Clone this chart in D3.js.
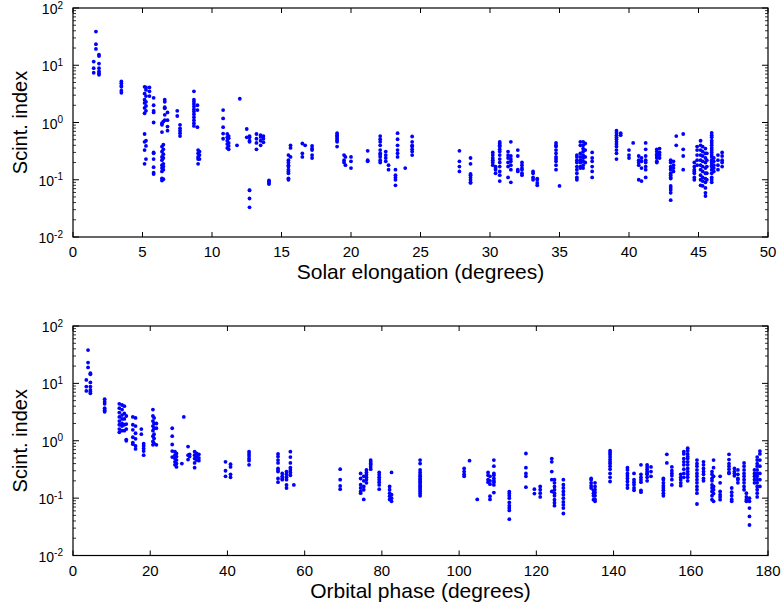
<!DOCTYPE html>
<html><head><meta charset="utf-8">
<script src="https://cdn.jsdelivr.net/npm/d3@7"></script>
<style>body{margin:0;background:#fff}svg{display:block}text{font-family:"Liberation Sans",Arial,Helvetica,sans-serif;fill:#000}</style>
</head><body><svg id="c" width="781" height="609"></svg>
<script>
// ---------- DATA ----------
const yMajorExp = [-2, -1, 0, 1, 2];
const xTicksTop = [0, 5, 10, 15, 20, 25, 30, 35, 40, 45, 50];
const xTicksBottom = [0, 20, 40, 60, 80, 100, 120, 140, 160, 180];
const xLabelTop = "Solar elongation (degrees)";
const xLabelBottom = "Orbital phase (degrees)";
const yLabel = "Scint. index";

// Solar elongation (deg): column positions and scintillation index values
const elongX = [1.49,1.65,1.87,3.48,5.15,5.25,5.5,5.8,6.4,6.5,6.6,6.8,7.5,7.7,8.7,8.95,9.0,9.1,10.8,11.1,11.2,11.8,12.0,12.5,12.7,13.2,13.5,13.7,14.1,15.5,15.65,16.5,16.7,17.2,19.0,19.5,19.6,20.0,21.2,22.1,22.5,22.7,23.2,23.35,23.9,24.4,27.8,28.6,30.2,30.4,30.7,31.3,31.5,32.0,32.3,33.1,33.4,34.75,35.0,36.25,36.5,36.7,36.85,37.35,39.1,39.4,40.0,40.3,40.7,40.9,41.2,42.0,42.2,43.0,43.2,43.4,43.9,44.7,44.9,45.15,45.3,45.5,45.6,45.95,46.1,46.4,46.7];
const elongY = [
 [11.6,8.9,7.4],[38.7,23.3,19.3],[15.3,14.5,10.7,8.9,7.8,7.2,6.8],[5.2,4.85,4.4,4.2,3.6,3.3],
 [4.2,3.2,2.5,2.2,1.8,1.45,0.63,0.46,0.33,0.19],[4.1,3.7,2.9,2.3,1.95,1.6,0.48,0.39,0.23],[4.1,3.5,2.9],
 [2.7,2.0,1.6,1.5,1.0,0.30,0.29,0.23,0.166,0.133,0.126],
 [0.97,0.91,0.68,0.38,0.31,0.25,0.22,0.18,0.16,0.14,0.106,0.097],[1.04,0.41,0.34,0.28,0.24,0.19,0.17,0.15,0.102],
 [2.5,2.3,1.85,1.77,1.36,1.1],[1.5,1.1,0.85,0.72],[1.6,1.3],[0.91,0.79,0.72,0.65,0.58],
 [3.5,2.5,2.3,2.1,1.9,1.7,1.55,1.4,1.24,1.1,0.97,0.87],[2.0,1.65,0.83],[0.33,0.29,0.25,0.19,0.23],[0.31,0.27,0.23],
 [1.65,1.18,0.83,0.64,0.52],[0.63,0.55,0.48,0.42,0.36],[0.58,0.53,0.44,0.39,0.34],[0.4],[2.6],[0.77,0.55],
 [0.58,0.55,0.48,0.46,0.066,0.065,0.047,0.033],[0.63,0.52,0.44,0.34],[0.6,0.56,0.48,0.4],[0.58,0.52,0.45],
 [0.097,0.093,0.088,0.084],[0.27,0.22,0.2,0.18,0.17,0.15,0.14,0.13,0.106,0.1],[0.4,0.36,0.25],[0.43,0.29,0.25],[0.4],
 [0.39,0.35,0.33,0.27,0.24],[0.65,0.6,0.57,0.53,0.49,0.46,0.38],[0.27,0.22,0.2],[0.25,0.18],[0.25,0.21,0.16],
 [0.32,0.22,0.21],[0.58,0.51,0.46,0.40,0.33,0.29,0.27,0.25,0.22,0.2],[0.31,0.27,0.24,0.21],[0.18,0.15],
 [0.15,0.12,0.11,0.1,0.08],[0.65,0.51,0.40,0.33,0.29,0.25],[0.16],[0.57,0.46,0.40,0.38,0.34,0.31,0.27],
 [0.32,0.21,0.17,0.14],[0.24,0.19,0.126,0.12,0.11,0.1,0.09,0.088],[0.30,0.27,0.24,0.22,0.2,0.18],[0.17,0.16,0.15,0.13],
 [0.46,0.43,0.40,0.38,0.34,0.31,0.27,0.23,0.2,0.17,0.14,0.12,0.095],[0.31,0.27,0.24,0.2,0.17,0.11],
 [0.46,0.26,0.23,0.21,0.18,0.15,0.09],[0.33,0.26,0.15,0.14],[0.2,0.18,0.16,0.15,0.13,0.12],[0.14,0.13,0.11,0.1],
 [0.105,0.1,0.088,0.08],[0.44,0.40,0.38,0.33,0.29,0.25,0.23,0.21,0.18,0.15],[0.078],
 [0.27,0.25,0.22,0.2,0.17,0.15,0.13,0.11,0.1],[0.46,0.40,0.29,0.25,0.22,0.2,0.17,0.16],
 [0.46,0.40,0.35,0.31,0.27,0.24,0.21,0.18,0.16],[0.43,0.33,0.25,0.2],[0.3,0.24,0.21,0.17,0.14,0.11],
 [0.72,0.66,0.6,0.55,0.51,0.46,0.42,0.38,0.33,0.29,0.23],[0.65,0.6],[0.33,0.27,0.24],[0.44],
 [0.26,0.22,0.2,0.18,0.1],[0.24,0.21,0.16,0.095],[0.44,0.34,0.26,0.22,0.2,0.17,0.15,0.11],
 [0.34,0.31,0.28,0.26,0.24,0.21,0.2],[0.35,0.30,0.27,0.24],
 [0.22,0.2,0.17,0.16,0.15,0.13,0.12,0.11,0.105,0.078,0.072,0.066,0.059,0.044],[0.21,0.18,0.16,0.14],[0.58,0.40],
 [0.63,0.34,0.26,0.15],[0.2,0.17,0.15,0.14,0.13,0.11,0.1],[0.38,0.33,0.27,0.22,0.18],
 [0.48,0.40,0.33,0.27,0.22,0.18,0.15,0.12,0.1,0.08],[0.38,0.31,0.26,0.21,0.17,0.14,0.11,0.095,0.078],
 [0.35,0.29,0.24,0.2,0.16,0.13,0.105,0.09,0.072,0.059,0.052],[0.29,0.22,0.17,0.13,0.1],
 [0.66,0.6,0.55,0.48,0.44,0.40,0.36,0.33,0.30,0.27,0.25,0.22,0.2,0.18,0.17,0.15,0.13,0.11,0.1,0.09],
 [0.24,0.21,0.18,0.16,0.14],[0.27,0.22,0.18,0.15],[0.30,0.26,0.22,0.2,0.17]
];

// Orbital phase (deg): column positions and scintillation index values
const phaseX = [3.45,3.9,4.5,8.2,12.0,12.7,13.3,13.8,15.5,16.2,17.7,18.3,20.7,21.0,21.6,25.7,26.4,26.8,28.2,28.7,29.8,30.2,31.5,32.0,32.6,39.5,40.8,45.6,53.1,54.2,55.3,56.3,57.2,69.2,74.5,75.3,76.0,77.1,79.3,82.0,82.5,89.9,101.3,102.7,104.7,107.5,108.0,109.0,113.0,117.3,119.5,121.0,124.0,124.7,127.0,134.2,134.8,135.2,139.1,143.6,145.3,147.1,148.7,149.7,152.9,153.8,155.1,157.4,158.2,159.2,161.6,163.3,165.5,165.9,167.6,169.9,170.6,171.3,172.2,173.8,174.4,175.2,176.5,177.2,177.9];
const phaseY = [
 [11.5,8.8,7.4],[38,23,19],[15,14.4,10.4,8.8,7.7,7.2,6.7],[5.3,4.8,4.4,3.7,3.4,3.2],
 [4.4,3.7,3.1,2.6,2.2,1.9,1.6,1.4],[4.2,3.5,2.8,2.4,2.0,1.8,1.5],[4.0,3.0,2.4,1.9,1.5],[2.7,1.95,1.6,1.05,1.0],
 [2.6,1.9,1.55,1.15,0.93,0.87],[2.5,1.8,1.35,1.08,0.81,0.72],[1.6,1.3],[0.89,0.81,0.73,0.66,0.56],
 [3.5,2.7,2.2,1.8,1.5,1.2,0.97,0.85],[2.5,2.0,1.65,1.3,1.1,0.9],[2.0,1.65,0.85],[1.65,1.2,0.86,0.66,0.52],
 [0.645,0.56,0.49,0.43,0.38],[0.6,0.53,0.46,0.40,0.35],[0.40],[2.6],[0.79,0.56,0.47],[0.58,0.53],
 [0.645,0.56,0.49,0.41,0.34],[0.6,0.53,0.46],[0.58,0.5,0.45],[0.43,0.30,0.24],[0.39,0.35,0.26,0.23],
 [0.645,0.59,0.54,0.49,0.45,0.38],[0.59,0.53,0.46,0.41,0.33,0.31,0.29,0.22,0.19],[0.27,0.24,0.22,0.21],
 [0.29,0.26,0.23,0.21,0.17,0.15],[0.645,0.52,0.41,0.34,0.31,0.28,0.25],[0.17],[0.32,0.21,0.163,0.143],
 [0.27,0.22,0.171,0.15,0.131,0.122],[0.24,0.2,0.16,0.14,0.095],[0.31,0.28,0.255,0.23,0.21,0.185],
 [0.46,0.43,0.40,0.38,0.35,0.32],[0.28,0.255,0.23,0.21,0.19,0.17,0.143],[0.16,0.14,0.122,0.108,0.095],
 [0.28,0.115,0.1,0.088],
 [0.46,0.40,0.31,0.28,0.255,0.24,0.22,0.21,0.195,0.185,0.171,0.16,0.15,0.14,0.131,0.12,0.11],
 [0.33,0.29,0.26,0.24],[0.45],[0.095],[0.28,0.25,0.21,0.19],[0.24,0.2,0.175,0.108,0.095],
 [0.46,0.36,0.27,0.25,0.22,0.2,0.19,0.17,0.125],[0.13,0.12,0.11,0.1,0.084,0.074,0.067,0.061,0.043],
 [0.6,0.34,0.27,0.24,0.155],[0.143,0.12],[0.16,0.14,0.122,0.105],[0.49,0.43,0.29,0.21,0.131],
 [0.21,0.185,0.16,0.14,0.122,0.11,0.094,0.083,0.074],[0.21,0.171,0.15,0.131,0.115,0.1,0.086,0.076,0.067,0.054],
 [0.22,0.21,0.185,0.165,0.15],[0.137,0.122,0.11,0.094],[0.185,0.16,0.14,0.125,0.11,0.095,0.088],
 [0.67,0.62,0.57,0.52,0.47,0.43,0.4,0.36,0.32,0.27,0.23,0.195],[0.34,0.31,0.27,0.245,0.22,0.195,0.17,0.15],
 [0.27,0.21,0.19,0.171,0.15,0.137],[0.38,0.26,0.23,0.21,0.19,0.137,0.127],[0.38,0.35,0.32,0.29,0.27,0.26,0.23,0.2],
 [0.35,0.29,0.24],[0.22,0.21,0.185,0.165,0.15,0.137,0.122,0.11],[0.58,0.41],[0.35,0.3,0.27,0.245,0.21,0.17],
 [0.26,0.23,0.21,0.185,0.165],[0.645,0.59,0.49,0.43,0.38,0.32,0.27,0.23],
 [0.74,0.67,0.59,0.53,0.49,0.43,0.38,0.33,0.29,0.26,0.23,0.2],
 [0.46,0.40,0.36,0.31,0.27,0.24,0.21,0.185,0.16,0.14,0.122,0.079],[0.43,0.38,0.33,0.29,0.26,0.22,0.2],
 [0.29,0.26,0.22,0.2,0.17,0.15,0.131,0.11,0.094],[0.46,0.34,0.24,0.16,0.14,0.12,0.088],
 [0.24,0.185,0.131,0.115,0.105,0.094],[0.58,0.47,0.40,0.36,0.32,0.28,0.27],[0.15,0.127,0.11,0.095,0.088],
 [0.33,0.29,0.27,0.245],[0.31,0.26,0.22,0.21,0.185],[0.41,0.36,0.31,0.27,0.24,0.21,0.185,0.16,0.14],
 [0.122,0.105,0.094,0.088],[0.1,0.088,0.067,0.048,0.034],[0.31,0.27,0.24,0.21,0.185],
 [0.52,0.46,0.40,0.36,0.31,0.27,0.24,0.21,0.185,0.16,0.14,0.122,0.105],[0.66,0.59,0.46,0.36,0.27,0.21,0.16]
];

// ---------- DRAW ----------
const svg = d3.select("#c");
const dotColor = "#0000ff";

function panel(box, xDomain, xTicks, xs, ys, xLabel) {
  const {x0, x1, y0, y1} = box;
  const g = svg.append("g");
  const x = d3.scaleLinear().domain(xDomain).range([x0, x1]);
  const y = d3.scaleLog().domain([0.01, 100]).range([y1, y0]);

  // dots
  const pts = [];
  xs.forEach((xv, i) => ys[i].forEach(v => pts.push([xv, v])));
  g.append("g").selectAll("circle").data(pts).join("circle")
    .attr("cx", d => x(d[0])).attr("cy", d => y(d[1])).attr("r", 1.9)
    .attr("fill", dotColor);

  // frame
  g.append("rect").attr("x", x0).attr("y", y0).attr("width", x1 - x0).attr("height", y1 - y0)
    .attr("fill", "none").attr("stroke", "#000").attr("stroke-width", 1.2);

  // x ticks (inward, top and bottom)
  xTicks.forEach(t => {
    const px = x(t);
    g.append("line").attr("x1", px).attr("x2", px).attr("y1", y1).attr("y2", y1 - 5).attr("stroke", "#000");
    g.append("line").attr("x1", px).attr("x2", px).attr("y1", y0).attr("y2", y0 + 5).attr("stroke", "#000");
    g.append("text").attr("x", px).attr("y", y1 + 20).attr("text-anchor", "middle")
      .attr("font-size", 15).text(t);
  });

  // y ticks (log, inward, left and right)
  yMajorExp.forEach(e => {
    const py = y(Math.pow(10, e));
    g.append("line").attr("x1", x0).attr("x2", x0 + 6).attr("y1", py).attr("y2", py).attr("stroke", "#000");
    g.append("line").attr("x1", x1).attr("x2", x1 - 6).attr("y1", py).attr("y2", py).attr("stroke", "#000");
    const t = g.append("text").attr("x", x0 - 10).attr("y", py + 6).attr("text-anchor", "end").attr("font-size", 14);
    t.append("tspan").text("10");
    t.append("tspan").attr("dy", -5.5).attr("font-size", 10).text(String(e));
    if (e < 2) {
      for (let m = 2; m <= 9; m++) {
        const pm = y(m * Math.pow(10, e));
        g.append("line").attr("x1", x0).attr("x2", x0 + 3).attr("y1", pm).attr("y2", pm).attr("stroke", "#000").attr("stroke-width", 0.8);
        g.append("line").attr("x1", x1).attr("x2", x1 - 3).attr("y1", pm).attr("y2", pm).attr("stroke", "#000").attr("stroke-width", 0.8);
      }
    }
  });

  // axis labels
  g.append("text").attr("x", (x0 + x1) / 2).attr("y", y1 + 42).attr("text-anchor", "middle")
    .attr("font-size", 21).text(xLabel);
  g.append("text").attr("transform", `translate(27,${(y0 + y1) / 2}) rotate(-90)`)
    .attr("text-anchor", "middle").attr("font-size", 20).text(yLabel);
}

panel({x0: 73, x1: 768, y0: 8, y1: 237}, [0, 50], xTicksTop, elongX, elongY, xLabelTop);
panel({x0: 73, x1: 768, y0: 326, y1: 555.5}, [0, 180], xTicksBottom, phaseX, phaseY, xLabelBottom);
</script></body></html>
